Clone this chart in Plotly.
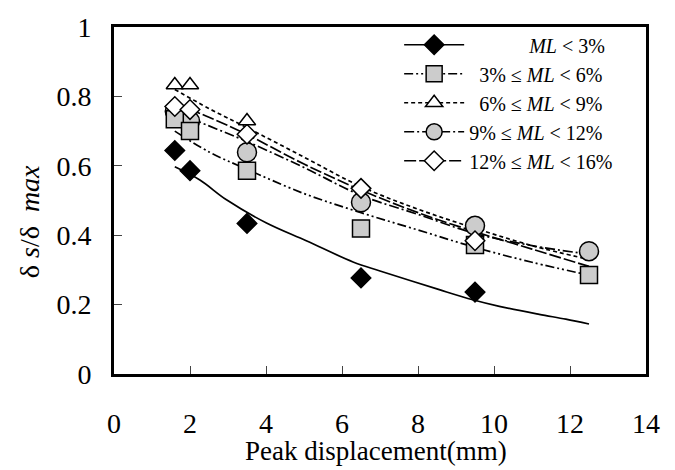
import plotly.graph_objects as go

# ---------------- data ----------------
x_pts = [1.6, 2.0, 3.5, 6.5, 9.5, 12.5]

ml_lt3 = [0.644, 0.586, 0.434, 0.277, 0.236, None]
ml_3_6 = [0.734, 0.700, 0.586, 0.419, 0.372, 0.285]
ml_6_9 = [0.833, 0.833, 0.729, None, None, None]
ml_9_12 = [0.757, 0.729, 0.639, 0.495, 0.427, 0.354]
ml_12_16 = [0.771, 0.762, 0.691, 0.535, 0.384, None]

# trend lines
fit_lt3_x = [1.6, 2.26, 2.96, 4.0, 5.06, 6.29, 7.0, 8.56, 9.44, 10.14, 11.19, 11.89, 12.5]
fit_lt3_y = [0.597, 0.559, 0.502, 0.436, 0.384, 0.323, 0.297, 0.243, 0.214, 0.195, 0.172, 0.158, 0.144]

fit_x = [1.6, 2.5, 3.5, 5.0, 6.5, 8.0, 9.5, 11.0, 12.5]
fit_3_6 = [0.700, 0.640, 0.590, 0.520, 0.465, 0.415, 0.365, 0.322, 0.285]
fit_6_9 = [0.820, 0.765, 0.710, 0.625, 0.540, 0.475, 0.420, 0.370, 0.330]
fit_9_12 = [0.755, 0.715, 0.670, 0.595, 0.515, 0.460, 0.405, 0.370, 0.345]
fit_12_16 = [0.780, 0.740, 0.690, 0.605, 0.530, 0.465, 0.410, 0.360, 0.310]

NB = "\u00a0"
labels = [
    NB * 12 + "<i>ML</i>" + NB + "&lt;" + NB + "3%",
    NB * 2 + "3% ≤" + NB + "<i>ML</i>" + NB + "&lt;" + NB + "6%",
    NB * 2 + "6% ≤" + NB + "<i>ML</i>" + NB + "&lt;" + NB + "9%",
    "9% ≤" + NB + "<i>ML</i>" + NB + "&lt;" + NB + "12%",
    "12% ≤" + NB + "<i>ML</i>" + NB + "&lt;" + NB + "16%",
]

x_ticks = [0, 2, 4, 6, 8, 10, 12, 14]
y_ticks = [0, 0.2, 0.4, 0.6, 0.8, 1]
y_ticktext = ["0", "0.2", "0.4", "0.6", "0.8", "1"]

# ---------------- styles ----------------
FONT = "Liberation Serif"
GRAY = "#cccccc"
series = [
    # label, pts, fit_x, fit_y, symbol, fill, size, dash
    (labels[0], ml_lt3, fit_lt3_x, fit_lt3_y, "diamond", "black", 15, "solid"),
    (labels[1], ml_3_6, fit_x, fit_3_6, "square", GRAY, 17, "9px,3px,2px,3px,2px,3px"),
    (labels[2], ml_6_9, fit_x, fit_6_9, "triangle-up", "white", 15, "4px,3px"),
    (labels[3], ml_9_12, fit_x, fit_9_12, "circle", GRAY, 19, "10px,3px,2px,3px"),
    (labels[4], ml_12_16, fit_x, fit_12_16, "diamond", "white", 15, "12px,3px"),
]
LW = 1.7

fig = go.Figure()

# trend lines
for lab, pts, fx, fy, sym, fill, size, dash in series:
    fig.add_trace(go.Scatter(x=fx, y=fy, mode="lines", showlegend=False,
                             line=dict(color="black", width=LW, dash=dash,
                                       shape="spline"),
                             hoverinfo="skip"))

# markers (draw order chosen to match overlaps)
draw_order = [3, 1, 4, 2, 0]
for i in draw_order:
    lab, pts, fx, fy, sym, fill, size, dash = series[i]
    fig.add_trace(go.Scatter(x=x_pts, y=pts, mode="markers", showlegend=False,
                             marker=dict(symbol=sym, size=size, color=fill,
                                         line=dict(color="black", width=1.5))))

# legend entries
for rank, (lab, pts, fx, fy, sym, fill, size, dash) in enumerate(series):
    fig.add_trace(go.Scatter(x=[None], y=[None], mode="lines+markers", name=lab,
                             legendrank=rank + 1,
                             line=dict(color="black", width=LW, dash=dash),
                             marker=dict(symbol=sym, size=size, color=fill,
                                         line=dict(color="black", width=1.5))))

axis_common = dict(showgrid=False, zeroline=False, showline=True, linecolor="black",
                   linewidth=3, mirror=True, ticks="inside", ticklen=8, tickwidth=1,
                   tickcolor="#444444",
                   tickfont=dict(family=FONT, size=28, color="black"))

fig.update_xaxes(range=[0, 14], tickvals=x_ticks, ticklabelstandoff=22, **axis_common)
fig.update_yaxes(range=[0, 1], tickvals=y_ticks, ticktext=y_ticktext,
                 ticklabelstandoff=14, **axis_common)

fig.add_annotation(xref="paper", yref="paper", x=0.493, y=-0.222,
                   text="Peak displacement(mm)", showarrow=False,
                   font=dict(family=FONT, size=27, color="black"),
                   xanchor="center", yanchor="middle")
fig.add_annotation(xref="paper", yref="paper", x=-0.16, y=0.44,
                   text="δ <i>s</i>/δ" + NB + NB + "<i>max</i>", showarrow=False,
                   textangle=-90,
                   font=dict(family=FONT, size=28, color="#000000"),
                   xanchor="center", yanchor="middle")

fig.update_layout(
    width=675, height=470,
    margin=dict(l=114, r=29, t=19, b=96),
    paper_bgcolor="white", plot_bgcolor="white",
    font=dict(family=FONT, color="black"),
    legend=dict(x=0.536, y=1.005, xanchor="left", yanchor="top",
                bgcolor="rgba(255,255,255,0)", borderwidth=0,
                font=dict(family=FONT, size=20, color="black"),
                tracegroupgap=0, itemwidth=60),
)

fig.write_html("out.html")
